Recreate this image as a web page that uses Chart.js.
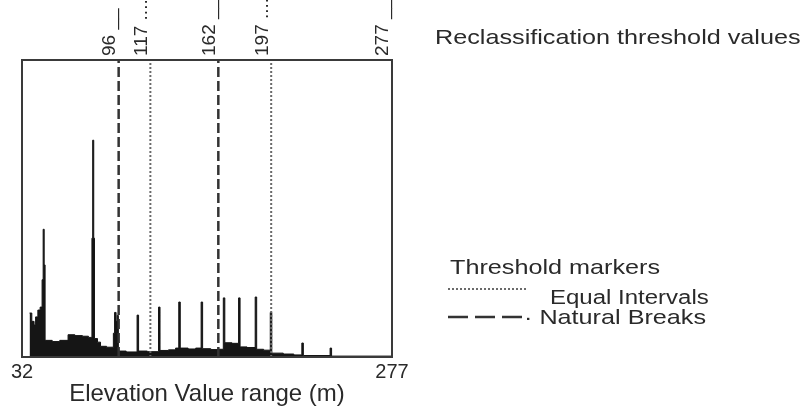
<!DOCTYPE html>
<html>
<head>
<meta charset="utf-8">
<script src="https://cdn.jsdelivr.net/npm/chart.js@4"></script>
<style>
  html, body { margin: 0; padding: 0; background: #fff; }
  #wrap { width: 805px; height: 414px; }
</style>
</head>
<body>
<div id="wrap"><canvas id="hist"></canvas></div>
<script>
// histogram: each bin starts at binStart and holds binCount until the next one
const binStart = [37, 38.5, 40, 41, 42.5, 44, 45.3, 46, 46.7, 47.3, 52, 57, 62.5, 67, 72, 76,
  78.3, 78.8, 79.5, 80, 82, 84, 88, 92.5, 93.3, 94.3, 95, 95.8, 101, 108.2, 109.2, 115,
  122.4, 123.4, 129, 133.7, 135.8, 136.8, 142, 147, 150.6, 151.6, 157, 162, 165.3, 166.3,
  171, 175.4, 176.4, 181, 186.4, 187.4, 192, 196.4, 197.4, 205, 212, 217.3, 218.3, 236, 237, 277];
const binCount = [14.8, 12, 10.8, 13.5, 15.8, 16.8, 26, 43, 31, 5.6, 5.2, 5.6, 7.5, 7.2, 7.0, 6.6,
  40, 73, 40, 6.2, 5.0, 3.6, 3.3, 8, 15, 12, 14, 2.0, 1.7, 14.1, 2.0, 1.8,
  16.8, 2.2, 2.4, 3.0, 18.5, 3.0, 2.7, 3.0, 18.5, 2.8, 2.5, 2.6, 19.9, 4.8,
  4.6, 19.9, 3.4, 3.2, 20.2, 2.6, 2.3, 15, 1.3, 1.0, 0.7, 4.7, 0.5, 3.0, 0.3, 0];

const naturalBreaks = [96, 162];
const equalIntervals = [117, 197];
const thresholdTicks = [96, 117, 162, 197, 277];
const rangeTicks = [32, 277];

const FONT = '"Liberation Sans", Arial, sans-serif';
const INK = '#2a2a2a';

function markerLine(v, dashed) {
  return {
    type: 'line',
    data: [{ x: v, y: 0 }, { x: v, y: 100 }],
    borderColor: dashed ? '#333' : '#6a6a6a',
    borderWidth: dashed ? 2.5 : 2,
    borderDash: dashed ? [10, 4] : [2, 2],
    pointRadius: 0,
    fill: false,
    order: 0
  };
}

// horizontal text in the source is a little wide, so stretch it
function wideText(ctx, text, x, y, size) {
  ctx.save();
  ctx.translate(x, y);
  ctx.scale(1.2, 1);
  ctx.font = size + 'px ' + FONT;
  ctx.fillStyle = INK;
  ctx.textBaseline = 'middle';
  ctx.fillText(text, 0, 0);
  ctx.restore();
}

const decor = {
  id: 'decor',
  afterDraw(chart) {
    const { ctx, chartArea: a } = chart;
    ctx.save();
    ctx.strokeStyle = '#3a3a3a';
    ctx.lineWidth = 2;
    ctx.strokeRect(a.left, a.top, a.right - a.left, a.bottom - a.top);

    wideText(ctx, 'Reclassification threshold values', 435, 38, 21);
    wideText(ctx, 'Threshold markers', 450, 268, 21);

    ctx.lineWidth = 2;
    ctx.strokeStyle = '#6a6a6a';
    ctx.setLineDash([2, 2]);
    ctx.beginPath(); ctx.moveTo(448, 289); ctx.lineTo(528, 289); ctx.stroke();
    wideText(ctx, 'Equal Intervals', 550, 298, 20);

    ctx.lineWidth = 2.5;
    ctx.strokeStyle = '#333';
    ctx.setLineDash([20, 7]);
    ctx.beginPath(); ctx.moveTo(448, 317); ctx.lineTo(522, 317); ctx.stroke();
    wideText(ctx, '\u00b7 Natural Breaks', 524, 318, 21);
    ctx.restore();
  }
};

new Chart(document.getElementById('hist'), {
  type: 'line',
  data: {
    datasets: [
      {
        label: 'Elevation histogram',
        data: binStart.map((x, i) => ({ x: x, y: binCount[i] })),
        stepped: true,
        fill: 'origin',
        backgroundColor: '#151515',
        borderColor: '#151515',
        borderWidth: 1,
        pointRadius: 0,
        order: 1
      },
      ...naturalBreaks.map(v => markerLine(v, true)),
      ...equalIntervals.map(v => markerLine(v, false))
    ]
  },
  options: {
    responsive: true,
    maintainAspectRatio: false,
    animation: false,
    layout: { padding: { left: 22, right: 413, top: 0, bottom: 0 } },
    plugins: { legend: { display: false }, tooltip: { enabled: false } },
    scales: {
      x: {
        type: 'linear',
        position: 'bottom',
        min: 32,
        max: 277,
        afterBuildTicks: axis => { axis.ticks = rangeTicks.map(v => ({ value: v })); },
        afterFit: axis => { axis.height = 57; },
        grid: { display: false, drawTicks: false },
        border: { display: false },
        ticks: { autoSkip: false, maxRotation: 0, padding: 3, color: INK, font: { family: FONT, size: 20 } },
        title: {
          display: true,
          text: 'Elevation Value range (m)',
          color: INK,
          font: { family: FONT, size: 24 },
          padding: { top: 0, bottom: 5 }
        }
      },
      xTop: {
        type: 'linear',
        position: 'top',
        min: 32,
        max: 277,
        afterBuildTicks: axis => { axis.ticks = thresholdTicks.map(v => ({ value: v })); },
        afterFit: axis => { axis.height = 60; },
        grid: { display: false, drawTicks: false },
        border: { display: false },
        ticks: {
          autoSkip: false,
          minRotation: 90,
          maxRotation: 90,
          padding: 4,
          labelOffset: 14,
          color: INK,
          font: { family: FONT, size: 19 },
          callback: v => equalIntervals.includes(v) ? v + ' ....' : v + ' __'
        }
      },
      y: { display: false, min: 0, max: 100 }
    }
  },
  plugins: [decor]
});
</script>
</body>
</html>
